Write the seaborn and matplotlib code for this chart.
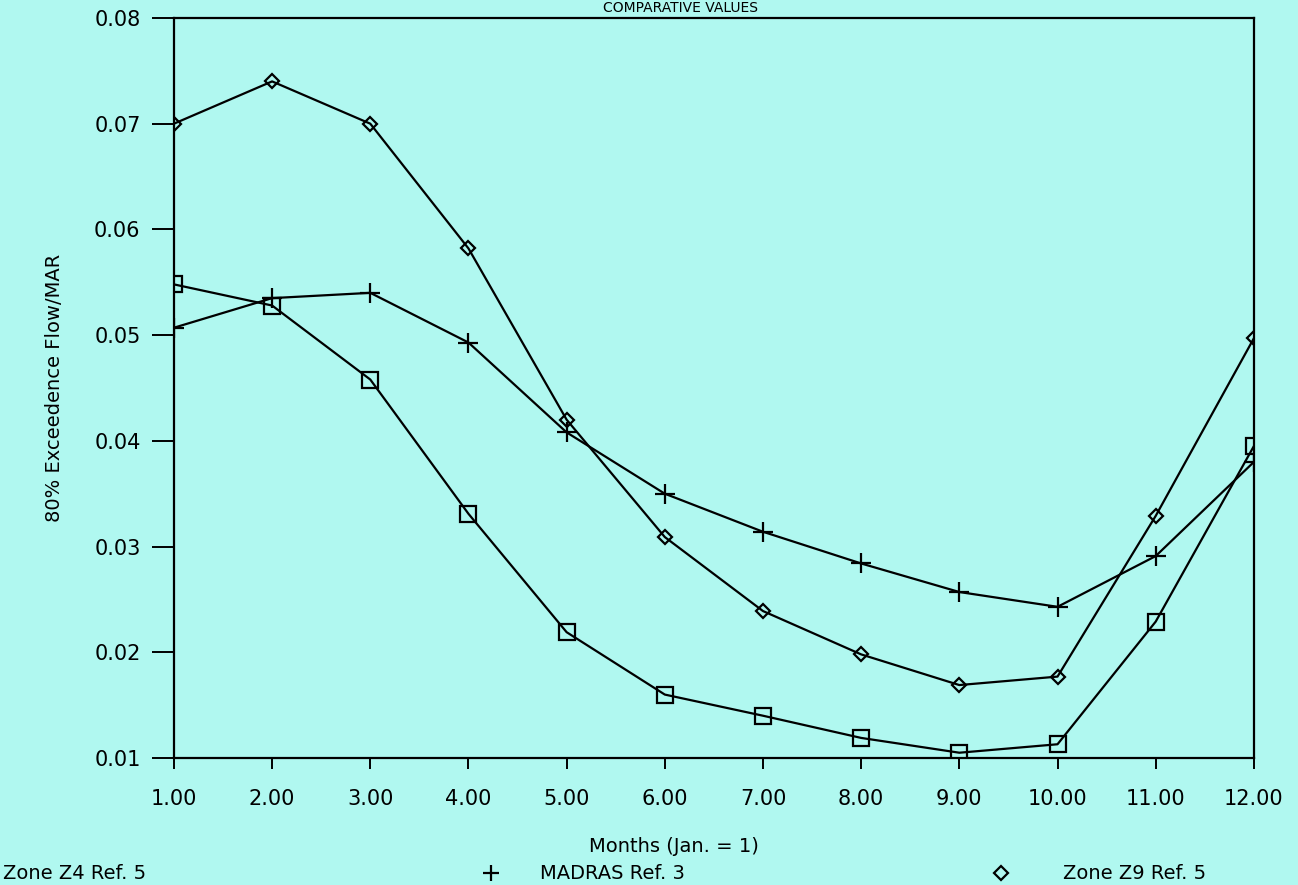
import pandas as pd
import matplotlib.pyplot as plt
import seaborn as sns
from matplotlib.lines import Line2D

# Dados
meses = [1, 2, 3, 4, 5, 6, 7, 8, 9, 10, 11, 12]
zona_z4 = [0.0548, 0.0528, 0.0458, 0.0331, 0.0219, 0.0160, 0.0140, 0.0119, 0.0105, 0.0113, 0.0229, 0.0395]
madras = [0.0507, 0.0535, 0.0540, 0.0493, 0.0408, 0.0350, 0.0314, 0.0284, 0.0257, 0.0243, 0.0291, 0.0380]
zona_z9 = [0.0700, 0.0740, 0.0700, 0.0582, 0.0420, 0.0309, 0.0239, 0.0198, 0.0169, 0.0177, 0.0329, 0.0497]
nomes = ["Zone Z4 Ref. 5", "MADRAS Ref. 3", "Zone Z9 Ref. 5"]
ticks_x = [1, 2, 3, 4, 5, 6, 7, 8, 9, 10, 11, 12]
ticks_y = [0.01, 0.02, 0.03, 0.04, 0.05, 0.06, 0.07, 0.08]

FUNDO = "#b0f8f0"

df = pd.DataFrame({
    "mes": meses * 3,
    "valor": zona_z4 + madras + zona_z9,
    "serie": [nomes[0]] * 12 + [nomes[1]] * 12 + [nomes[2]] * 12,
})

sns.set_theme(style="ticks")
plt.rcParams['font.family'] = ['DejaVu Sans']
plt.rcParams['text.color'] = 'black'
plt.rcParams['axes.labelcolor'] = 'black'
plt.rcParams['xtick.color'] = 'black'
plt.rcParams['ytick.color'] = 'black'

fig = plt.figure(figsize=(12.98, 8.85), dpi=100, facecolor=FUNDO)
ax = fig.add_axes([0.134, 0.1435, 0.832, 0.8362])
ax.set_facecolor(FUNDO)

marcadores = {nomes[0]: "s", nomes[1]: "+", nomes[2]: "D"}
tamanhos = {nomes[0]: 11, nomes[1]: 14, nomes[2]: 7}
for nome in nomes:
    sub = df[df["serie"] == nome]
    sns.lineplot(data=sub, x="mes", y="valor", ax=ax, color="black", linewidth=1.6,
                 marker=marcadores[nome], markersize=tamanhos[nome],
                 markerfacecolor="none", markeredgecolor="black", markeredgewidth=1.6,
                 legend=False)

ax.set_xlim(1, 12)
ax.set_ylim(0.01, 0.08)
ax.set_xticks(ticks_x)
ax.set_xticklabels([f"{t:.2f}" for t in ticks_x], fontsize=15)
ax.set_yticks(ticks_y)
ax.set_yticklabels([f"{t:.2f}" for t in ticks_y], fontsize=15)
ax.tick_params(axis="y", direction="out", length=16, width=1.4, pad=8)
ax.tick_params(axis="x", direction="out", length=8, width=1.4, pad=14)
for s in ax.spines.values():
    s.set_linewidth(1.6)
    s.set_color("black")

ax.set_xlabel("")
ax.set_ylabel("80% Exceedence Flow/MAR", fontsize=14, labelpad=22)

fig.text(0.519, 0.043, "Months (Jan. = 1)", ha="center", va="center", fontsize=14)
fig.text(0.524, 0.999, "COMPARATIVE VALUES", ha="center", va="top", fontsize=10)

# Legenda na base
y_leg = 0.013
fig.add_artist(Line2D([-0.012], [y_leg], marker="s", markersize=11, color="black",
                      markerfacecolor="none", markeredgewidth=1.6, transform=fig.transFigure))
fig.text(0.002, y_leg, nomes[0], ha="left", va="center", fontsize=14)
fig.add_artist(Line2D([0.378], [y_leg], marker="+", markersize=12, color="black",
                      markeredgewidth=1.6, transform=fig.transFigure))
fig.text(0.416, y_leg, nomes[1], ha="left", va="center", fontsize=14)
fig.add_artist(Line2D([0.771], [y_leg], marker="D", markersize=7, color="black",
                      markerfacecolor="none", markeredgewidth=1.6, transform=fig.transFigure))
fig.text(0.819, y_leg, nomes[2], ha="left", va="center", fontsize=14)

fig.savefig("out.png", dpi=100, facecolor=FUNDO)
